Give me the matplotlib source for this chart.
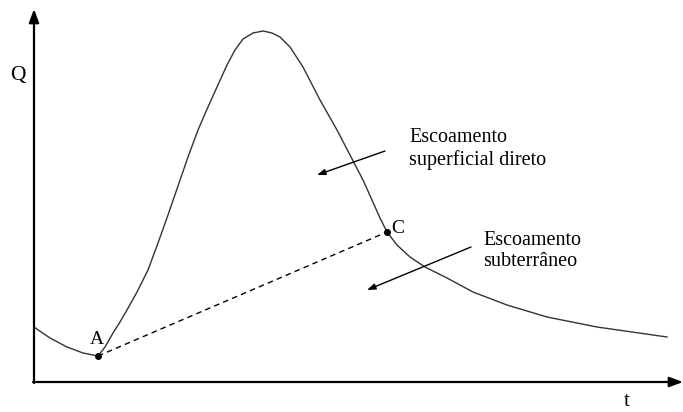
import matplotlib.pyplot as plt

# hydrograph (t, Q in arbitrary units, origin at the axes corner)
t = [0, 16, 33, 49, 64, 71, 79, 86, 93, 103, 114, 124, 134, 144, 154, 164, 174,
     183, 193, 201, 209, 219, 229, 238, 246, 256, 269, 286, 303, 316, 329, 338,
     346, 353, 363, 376, 391, 413, 439, 473, 513, 563, 633]
Q = [55, 44, 35, 29, 26, 35, 49, 60, 72, 90, 112, 139, 167, 196, 225, 252, 275,
     295, 317, 332, 343, 349, 351, 349, 345, 335, 315, 282, 252, 227, 202, 182,
     164, 150, 137, 125, 115, 104, 90, 77, 65, 55, 45]

# points A and C
pt_names = ['A', 'C']
pt_t = [64, 353]
pt_Q = [26, 150]

plt.rcParams['font.family'] = ['Liberation Serif', 'DejaVu Serif']

fig = plt.figure(figsize=(6.83, 4.12), dpi=100)
ax = fig.add_axes([0, 0, 1, 1])
ax.set_xlim(-34, 649)
ax.set_ylim(-30, 382)
ax.axis('off')

# axes with arrow heads
ax.annotate('', xy=(0, 373), xytext=(0, -1),
            arrowprops=dict(arrowstyle='-|>,head_length=0.8,head_width=0.3', lw=1.6, color='black',
                            shrinkA=0, shrinkB=0))
ax.annotate('', xy=(649, 0), xytext=(-1, 0),
            arrowprops=dict(arrowstyle='-|>,head_length=0.8,head_width=0.3', lw=1.6, color='black',
                            shrinkA=0, shrinkB=0))
ax.text(-16, 307, 'Q', fontsize=15.5, ha='center', va='center')
ax.text(593, -20, 't', fontsize=15.5, ha='center', va='center')

# hydrograph
ax.plot(t, Q, color='#333333', lw=1.0)

# base flow separation A-C
ax.plot(pt_t, pt_Q, color='black', lw=1.0, linestyle=(0, (4, 3)))
ax.plot(pt_t, pt_Q, 'o', color='black', markersize=4)
ax.text(pt_t[0] - 1, pt_Q[0] + 17, pt_names[0], fontsize=14, ha='center', va='center')
ax.text(pt_t[1] + 11, pt_Q[1] + 4, pt_names[1], fontsize=14, ha='center', va='center')

# labels with arrows
ax.text(375, 233, 'Escoamento\nsuperficial direto', fontsize=14.5, ha='left', va='center',
        linespacing=1.15)
ax.annotate('', xy=(283, 207), xytext=(351, 231),
            arrowprops=dict(arrowstyle='-|>,head_length=0.5,head_width=0.18', lw=1.0, color='black',
                            shrinkA=0, shrinkB=0))
ax.text(449, 131, 'Escoamento\nsubterrâneo', fontsize=14.5, ha='left', va='center',
        linespacing=1.15)
ax.annotate('', xy=(333, 92), xytext=(437, 135),
            arrowprops=dict(arrowstyle='-|>,head_length=0.5,head_width=0.18', lw=1.0, color='black',
                            shrinkA=0, shrinkB=0))

plt.savefig('out.png', dpi=100)
